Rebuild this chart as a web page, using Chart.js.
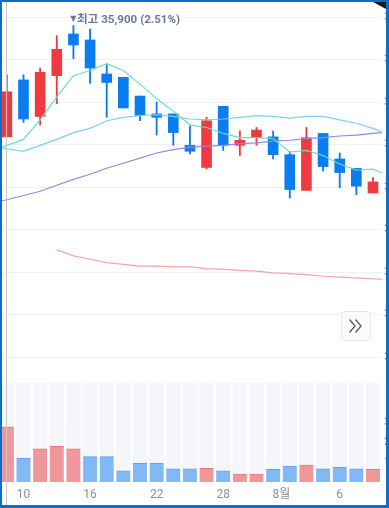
<!DOCTYPE html>
<html lang="ko">
<head>
<meta charset="utf-8">
<title>일봉 차트</title>
<script src="https://cdn.jsdelivr.net/npm/chart.js@4.4.1/dist/chart.umd.min.js"></script>
<style>
  html, body { margin: 0; padding: 0; overflow: hidden; background: #fff; }
  .frame { position: relative; width: 389px; height: 508px; overflow: hidden; background: #fff; }
  .price-wrap { position: absolute; left: 0; top: 0; width: 430px; height: 370px; }
  .volume-wrap { position: absolute; left: 0; top: 370px; width: 430px; height: 135px; }
  .cursor-line { position: absolute; left: 6px; top: 0; bottom: 0; width: 1px; background: #c4c9d0; }
  .jump-btn {
    position: absolute; left: 341px; top: 311px; width: 28px; height: 28px;
    border: 1px solid #e3e6ea; border-radius: 4px; background: #fbfbfc;
  }
  .jump-btn svg { position: absolute; left: 0; top: 0; }
  .corner {
    position: absolute; right: 3px; top: 2px; width: 13px; height: 7px; background: #1b1b1b;
    clip-path: polygon(0 0, 100% 0, 100% 100%);
  }
  .border {
    position: absolute; inset: 0; pointer-events: none;
    border-style: solid; border-color: #0a6fcb; border-width: 2px 3px 3px 2px;
  }
</style>
</head>
<body>
<div class="frame">
  <div class="price-wrap"><canvas id="priceChart" width="430" height="370"></canvas></div>
  <div class="volume-wrap"><canvas id="volumeChart" width="430" height="135"></canvas></div>
  <div class="cursor-line"></div>
  <div class="jump-btn">
    <svg width="28" height="28" viewBox="0 0 28 28">
      <polyline points="7.5,7.5 13,14 7.5,20.5" fill="none" stroke="#565b62" stroke-width="1.3"/>
      <polyline points="13.5,7.5 19,14 13.5,20.5" fill="none" stroke="#565b62" stroke-width="1.3"/>
    </svg>
  </div>
  <div class="corner"></div>
  <div class="border"></div>
</div>

<script>
/* ---------------------------------------------------------
   Data (daily candles, Jul 9 - Aug 8)
   --------------------------------------------------------- */
// x-axis labels; the month label sits on the Jul 31 / Aug 1 boundary
const tickLabels = ["10", "16", "22", "28", "8월", "6"];
const tickPos = [1, 5, 9, 13, 16.5, 20];

const open  = [34590, 35260, 34830, 35310, 35800, 35730, 35330, 35290, 35070, 34860, 34860, 34490,
  34230, 34950, 34490, 34580, 34590, 34380, 33960, 34630, 34330, 34220, 33930];
const high  = [35320, 35320, 35400, 35780, 35900, 35860, 35440, 35290, 35070, 35000, 34860, 34720,
  34820, 34950, 34660, 34700, 34660, 34420, 34700, 34630, 34400, 34220, 34110];
const low   = [34590, 34760, 34730, 34980, 35510, 35220, 34820, 34930, 34780, 34610, 34490, 34390,
  34210, 34430, 34370, 34490, 34330, 33870, 33960, 34190, 33990, 33910, 33930];
const close = [35120, 34800, 35350, 35620, 35670, 35400, 35230, 34930, 34840, 34820, 34640, 34420,
  34780, 34490, 34550, 34670, 34380, 33970, 34580, 34240, 34170, 34010, 34060];

const volume = [279000, 120000, 168000, 180000, 168000, 128000, 128000, 57000, 94000, 94000, 67000, 67000,
  69000, 57000, 40000, 40000, 64000, 81000, 86000, 67000, 74000, 67000, 64000];

// moving averages start one day before the first visible candle and run one day past the last
const maFrom = -1;
const ma5   = [34410, 34490, 34560, 34790, 35060, 35310, 35370, 35450, 35370, 35210, 35040, 34890, 34730,
  34700, 34630, 34580, 34580, 34570, 34410, 34430, 34370, 34270, 34200, 34210, 34130];
const ma20  = [34480, 34450, 34420, 34490, 34560, 34640, 34690, 34780, 34820, 34840, 34850, 34830, 34800,
  34790, 34800, 34820, 34840, 34830, 34810, 34830, 34830, 34790, 34750, 34690, 34610];
const ma60  = [33800, 33850, 33900, 33950, 34020, 34090, 34150, 34220, 34280, 34340, 34400, 34440, 34470,
  34480, 34490, 34510, 34520, 34540, 34550, 34570, 34580, 34600, 34610, 34630, 34650];
const ma120 = [null, null, null, null, 33260, 33190, 33150, 33110, 33090, 33070, 33070, 33060, 33060,
  33040, 33030, 33020, 33010, 32990, 32980, 32970, 32950, 32940, 32930, 32920, 32910];

const priceTicks = { min: 32000, max: 36000, step: 500 };
const volumeTicks = { min: 0, max: 500000, step: 100000 };
const highPct = 2.51;

/* ---------------------------------------------------------
   Styling
   --------------------------------------------------------- */
const UP = "#ef3b40";
const DOWN = "#0a7ef1";
const X_MIN = -0.412;
const X_MAX = 22.541;
const AXIS_W = 48;
const FONT = 'Roboto, "Noto Sans CJK KR", sans-serif';

function fmt(n) { return n.toLocaleString("ko-KR"); }

function isUp(i) { return close[i] >= open[i]; }

function volUp(i) { return i === 0 ? isUp(0) : close[i] >= close[i - 1]; }

function maLine(values, color, order) {
  return {
    type: "line",
    data: values.map((v, k) => ({ x: k + maFrom, y: v })),
    borderColor: color,
    borderWidth: 1.2,
    pointRadius: 0,
    tension: 0,
    order,
  };
}

const highLabel = {
  id: "highLabel",
  afterDatasetsDraw(chart) {
    const { ctx, scales: { x, y } } = chart;
    const idx = high.indexOf(Math.max(...high));
    const px = x.getPixelForValue(idx);
    const py = y.getPixelForValue(high[idx]);
    ctx.save();
    ctx.fillStyle = "#6c7895";
    ctx.textBaseline = "alphabetic";
    ctx.textAlign = "center";
    ctx.font = '8px "DejaVu Sans"';
    ctx.fillText("▼", px, py - 5);
    ctx.textAlign = "left";
    ctx.font = `bold 11.6px ${FONT}`;
    ctx.fillText(`최고 ${fmt(high[idx])} (${highPct.toFixed(2)}%)`, px + 3.5, py - 3);
    ctx.restore();
  },
};

/* ---------------------------------------------------------
   Price panel: candles + moving averages
   --------------------------------------------------------- */
const candleIdx = open.map((_, i) => i);

new Chart(document.getElementById("priceChart"), {
  type: "bar",
  data: {
    datasets: [
      maLine(ma5, "#68dfc5", 0),
      maLine(ma20, "#7ad2ec", 1),
      maLine(ma60, "#9985e4", 2),
      maLine(ma120, "#f6a4a4", 3),
      {
        data: candleIdx.map((i) => ({ x: i, y: [open[i], close[i]] })),
        backgroundColor: candleIdx.map((i) => (isUp(i) ? UP : DOWN)),
        barThickness: 10,
        grouped: false,
        order: 4,
      },
      {
        data: candleIdx.map((i) => ({ x: i, y: [low[i], high[i]] })),
        backgroundColor: candleIdx.map((i) => (isUp(i) ? UP : DOWN)),
        barThickness: 1.2,
        grouped: false,
        order: 5,
      },
    ],
  },
  options: {
    responsive: false,
    animation: false,
    layout: { padding: { top: 17, bottom: 13, left: 0, right: 0 } },
    plugins: { legend: { display: false }, tooltip: { enabled: false } },
    scales: {
      x: { type: "linear", min: X_MIN, max: X_MAX, offset: false, display: false },
      y: {
        position: "right",
        min: priceTicks.min,
        max: priceTicks.max,
        afterFit: (s) => { s.width = AXIS_W; },
        ticks: { stepSize: priceTicks.step, padding: 2, color: "#8c9095", font: { family: FONT, size: 11 }, callback: (v) => fmt(v) },
        grid: { color: "#eff0f3", drawTicks: false },
        border: { display: false },
      },
    },
  },
  plugins: [highLabel],
});

/* ---------------------------------------------------------
   Volume panel
   --------------------------------------------------------- */
new Chart(document.getElementById("volumeChart"), {
  type: "bar",
  data: {
    datasets: [
      {
        data: candleIdx.map((i) => ({ x: i, y: volume[i] })),
        backgroundColor: candleIdx.map((i) => (volUp(i) ? "#f0979b" : "#82b9f5")),
        borderColor: candleIdx.map((i) => (volUp(i) ? "#e9777c" : "#5fa4ef")),
        borderWidth: { top: 1, right: 0, bottom: 0, left: 0 },
        barThickness: 14,
        grouped: false,
        order: 1,
      },
      {
        data: candleIdx.map((i) => ({ x: i, y: volumeTicks.max })),
        backgroundColor: "#f5f6fa",
        barThickness: 14,
        grouped: false,
        order: 2,
      },
    ],
  },
  options: {
    responsive: false,
    animation: false,
    layout: { padding: { top: 13, bottom: 0, left: 0, right: 0 } },
    plugins: { legend: { display: false }, tooltip: { enabled: false } },
    scales: {
      x: {
        type: "linear",
        min: X_MIN,
        max: X_MAX,
        offset: false,
        afterBuildTicks: (s) => { s.ticks = tickPos.map((v) => ({ value: v })); },
        afterFit: (s) => { s.height = 23; },
        ticks: {
          autoSkip: false, maxRotation: 0, padding: 6, color: "#8b9096",
          font: { family: FONT, size: 12 },
          callback: (v, i) => tickLabels[i],
        },
        grid: { display: false, drawTicks: false, offset: false },
        border: { display: false },
      },
      y: {
        position: "right",
        min: volumeTicks.min,
        max: volumeTicks.max,
        afterFit: (s) => { s.width = AXIS_W; },
        ticks: {
          stepSize: volumeTicks.step, padding: 2, color: "#8c9095", font: { family: FONT, size: 11 },
          callback: (v) => (v > volumeTicks.min && v < volumeTicks.max - volumeTicks.step ? fmt(v) : ""),
        },
        grid: { display: false, drawTicks: false },
        border: { display: false },
      },
    },
  },
});
</script>
</body>
</html>
